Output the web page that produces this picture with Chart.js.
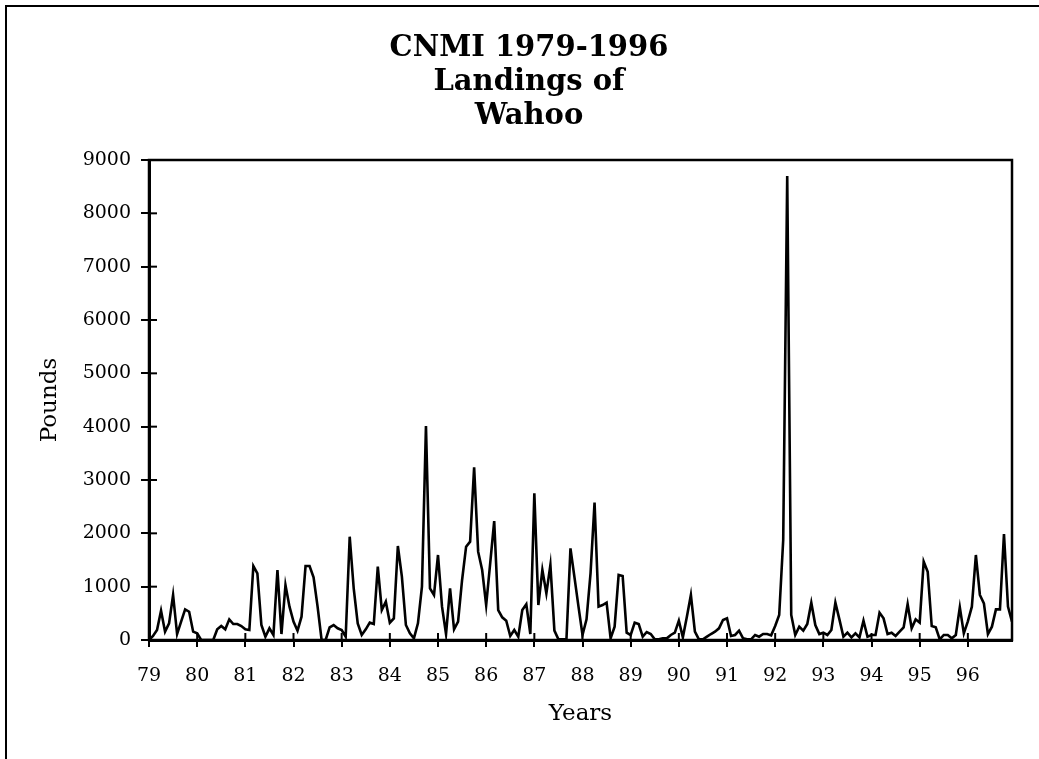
<!DOCTYPE html>
<html>
<head>
<meta charset="utf-8">
<script src="https://cdn.jsdelivr.net/npm/chart.js@4.4.1/dist/chart.umd.min.js"></script>
<style>
  html, body { margin: 0; padding: 0; background: #fff; overflow: hidden; }
  #wrap { position: relative; width: 1039px; height: 759px; }
  #outer { position: absolute; left: 5px; top: 5px; width: 1100px; height: 900px; border: 2.5px solid #000; }
  #chart { position: absolute; left: 0; top: 0; }
</style>
</head>
<body>
<div id="wrap">
  <div id="outer"></div>
  <canvas id="chart" width="1039" height="759"></canvas>
</div>
<script>
const TITLE = ["CNMI 1979-1996", "Landings of", "Wahoo"];
const FIRST_YEAR = 79;

// monthly landings (pounds), one row per year 1979..1996
const pounds = [
  0, 75, 187, 550, 156, 312, 844, 112, 344, 575, 530, 156,
  125, 0, 0, 0, 0, 200, 262, 200, 387, 300, 300, 262,
  200, 187, 1387, 1250, 281, 62, 219, 94, 1312, 112, 1031, 625,
  344, 175, 437, 1387, 1387, 1175, 625, 0, 0, 237, 281, 219,
  187, 62, 1937, 969, 312, 94, 200, 325, 300, 1375, 562, 719,
  325, 406, 1762, 1187, 281, 125, 31, 312, 1000, 4012, 969, 844,
  1594, 625, 112, 969, 200, 344, 1125, 1750, 1844, 3237, 1656, 1312,
  656, 1437, 2231, 562, 425, 362, 75, 187, 62, 562, 669, 112,
  2750, 656, 1312, 875, 1406, 175, 12, 12, 12, 1719, 1175, 625,
  94, 387, 1250, 2575, 625, 656, 700, 31, 250, 1219, 1200, 137,
  94, 325, 300, 62, 150, 112, 12, 12, 31, 31, 94, 137,
  362, 50, 437, 844, 156, 12, 12, 62, 112, 156, 219, 375,
  406, 75, 94, 175, 31, 12, 12, 94, 62, 112, 112, 87,
  262, 469, 1875, 8700, 469, 94, 250, 175, 300, 700, 281, 112,
  137, 94, 187, 700, 387, 62, 137, 50, 125, 50, 362, 62,
  94, 94, 512, 406, 112, 137, 75, 156, 237, 675, 219, 387,
  325, 1469, 1281, 262, 237, 12, 94, 94, 31, 94, 612, 125,
  350, 625, 1594, 844, 687, 112, 250, 575, 575, 1987, 625, 344
];

const points = pounds.map((v, i) => ({ x: i, y: v }));

const SERIF = "'DejaVu Serif', serif";

// box round the plot area + tick marks that cross the axes
const frame = {
  id: "frame",
  afterDraw(chart) {
    const { ctx, chartArea: a } = chart;
    const xs = chart.scales.x, ys = chart.scales.y;
    ctx.save();
    ctx.strokeStyle = "#000";
    ctx.lineWidth = 2.5;
    ctx.strokeRect(a.left, a.top, a.right - a.left, a.bottom - a.top);
    ctx.lineWidth = 2;
    xs.ticks.forEach((t) => {
      const px = xs.getPixelForValue(t.value);
      ctx.beginPath();
      ctx.moveTo(px, a.bottom);
      ctx.lineTo(px, a.bottom - 7);
      ctx.stroke();
    });
    ys.ticks.forEach((t) => {
      const py = ys.getPixelForValue(t.value);
      ctx.beginPath();
      ctx.moveTo(a.left, py);
      ctx.lineTo(a.left + 8, py);
      ctx.stroke();
    });
    ctx.restore();
  },
};

new Chart(document.getElementById("chart"), {
  type: "line",
  data: {
    datasets: [
      {
        data: points,
        borderColor: "#000",
        borderWidth: 2.6,
        pointRadius: 0,
        tension: 0,
        fill: false,
      },
    ],
  },
  options: {
    responsive: false,
    animation: false,
    layout: { padding: { left: 46, right: 27, top: 0, bottom: 0 } },
    plugins: {
      legend: { display: false },
      tooltip: { enabled: false },
      title: {
        display: true,
        text: TITLE,
        color: "#000",
        font: { family: SERIF, size: 29, weight: "bold", lineHeight: "34px" },
        padding: { top: 31, bottom: 27 },
      },
    },
    scales: {
      x: {
        type: "linear",
        min: 0,
        max: pounds.length - 1,
        afterFit: (s) => { s.height = 119; },
        border: { display: true, color: "#000", width: 3 },
        grid: { display: true, drawOnChartArea: false, color: "#000", lineWidth: 2, tickLength: 7 },
        ticks: {
          stepSize: 12,
          includeBounds: false,
          autoSkip: false,
          maxRotation: 0,
          padding: 18,
          color: "#000",
          font: { family: SERIF, size: 19 },
          callback: (v) => String(FIRST_YEAR + v / 12),
        },
        title: {
          display: true,
          text: "Years",
          color: "#000",
          font: { family: SERIF, size: 23 },
          padding: { top: 0, bottom: 31 },
        },
      },
      y: {
        min: 0,
        max: 9000,
        afterFit: (s) => { s.width = 103; },
        border: { display: true, color: "#000", width: 3 },
        grid: { display: true, drawOnChartArea: false, color: "#000", lineWidth: 2, tickLength: 8 },
        ticks: {
          stepSize: 1000,
          padding: 10,
          color: "#000",
          font: { family: SERIF, size: 19 },
          callback: (v) => String(v),
        },
        title: {
          display: true,
          text: "Pounds",
          color: "#000",
          font: { family: SERIF, size: 23 },
          padding: { top: -10, bottom: 0 },
        },
      },
    },
  },
  plugins: [frame],
});
</script>
</body>
</html>
